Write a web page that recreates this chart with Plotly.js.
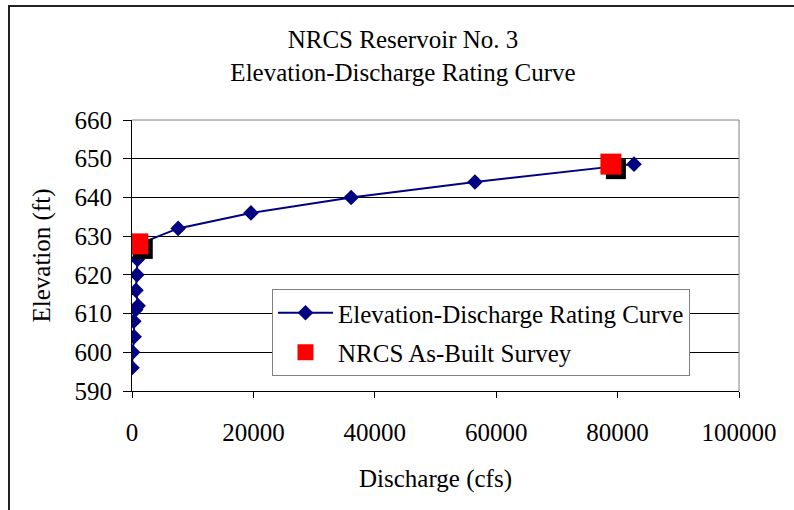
<!DOCTYPE html>
<html><head><meta charset="utf-8">
<script src="https://cdn.plot.ly/plotly-3.0.1.min.js"></script>
<style>html,body{margin:0;padding:0;background:#fff}#chart{width:794px;height:510px}</style>
</head><body><div id="chart"></div>
<script>
// Data
const curveDischarge = [0, 100, 350, 300, 600, 1000, 650, 800, 900, 1200, 7600, 19600, 36100, 56500, 82700];
const curveElevation = [596, 600, 604, 608, 611, 612, 616, 620, 624, 628, 632, 636, 640, 644, 648.6];
const surveyDischarge = [950, 78900];
const surveyElevation = [628, 648.6];
const xTickVals = [0, 20000, 40000, 60000, 80000, 100000];
const yTickVals = [590, 600, 610, 620, 630, 640, 650, 660];

const FONT = "Liberation Serif, 'Times New Roman', Times, serif";
const FS = 25;
const W = 794, H = 510;
const M = {l: 132, r: 55, t: 120, b: 119};
const xRange = [0, 100000], yRange = [590, 660];
const plotW = W - M.l - M.r, plotH = H - M.t - M.b;
// shadow offset (pixels) for the survey markers, expressed as a shifted overlay axis
const sh = 5;
const dx = sh * (xRange[1] - xRange[0]) / plotW;
const dy = sh * (yRange[1] - yRange[0]) / plotH;

const traces = [
  {
    x: curveDischarge, y: curveElevation, type: 'scatter', mode: 'lines+markers',
    name: 'Elevation-Discharge Rating Curve', legendgroup: 'a',
    line: {color: '#000080', width: 2},
    marker: {symbol: 'diamond', size: 12, color: '#000080'},
    xaxis: 'x', yaxis: 'y'
  },
  {
    x: surveyDischarge, y: surveyElevation, type: 'scatter', mode: 'markers',
    showlegend: false, hoverinfo: 'skip',
    marker: {symbol: 'square', size: 20, color: '#000000'},
    xaxis: 'x2', yaxis: 'y2'
  },
  {
    x: surveyDischarge, y: surveyElevation, type: 'scatter', mode: 'markers',
    name: 'NRCS As-Built Survey', legendgroup: 'b',
    marker: {symbol: 'square', size: 21, color: '#ff0000'},
    xaxis: 'x3', yaxis: 'y3'
  }
];

const hidden = {visible: false, fixedrange: true};
const layout = {
  width: W, height: H,
  margin: M,
  paper_bgcolor: '#ffffff', plot_bgcolor: '#ffffff',
  font: {family: FONT, size: FS, color: '#000000'},
  showlegend: true,
  title: {
    text: 'NRCS Reservoir No. 3<br>Elevation-Discharge Rating Curve',
    font: {family: FONT, size: FS, color: '#000'},
    xref: 'container', x: 403 / W, xanchor: 'center',
    yref: 'container', y: 1 - 48 / H, yanchor: 'top'
  },
  xaxis: {
    range: xRange, tickvals: xTickVals, ticktext: xTickVals.map(String),
    showgrid: false, zeroline: false, showline: true, linecolor: '#000', linewidth: 1,
    ticks: 'outside', ticklen: 6, tickcolor: '#000', tickwidth: 1,
    ticklabelstandoff: 13,
    tickfont: {family: FONT, size: FS},
    title: {text: 'Discharge (cfs)', font: {family: FONT, size: FS}, standoff: 24}
  },
  yaxis: {
    range: yRange, tickvals: yTickVals, ticktext: yTickVals.map(String),
    showgrid: true, gridcolor: '#000', gridwidth: 1, zeroline: false,
    showline: true, linecolor: '#000', linewidth: 1,
    ticks: 'outside', ticklen: 8, tickcolor: '#000', tickwidth: 1,
    ticklabelstandoff: 6,
    tickfont: {family: FONT, size: FS},
    title: {text: 'Elevation (ft)', font: {family: FONT, size: FS}, standoff: 16}
  },
  xaxis2: Object.assign({overlaying: 'x', range: [xRange[0] - dx, xRange[1] - dx]}, hidden),
  yaxis2: Object.assign({overlaying: 'y', range: [yRange[0] + dy, yRange[1] + dy]}, hidden),
  xaxis3: Object.assign({overlaying: 'x', range: xRange}, hidden),
  yaxis3: Object.assign({overlaying: 'y', range: yRange}, hidden),
  legend: {
    x: (272 - M.l) / plotW, y: (H - M.b - 289) / plotH, xanchor: 'left', yanchor: 'top',
    bgcolor: '#ffffff', bordercolor: '#808080', borderwidth: 1,
    font: {family: FONT, size: FS},
    itemwidth: 55, traceorder: 'grouped', tracegroupgap: 4
  },
  shapes: [
    {type: 'line', xref: 'paper', yref: 'paper', x0: 0, x1: 1, y0: 1, y1: 1, line: {color: '#808080', width: 1}},
    {type: 'line', xref: 'paper', yref: 'paper', x0: 1, x1: 1, y0: 0, y1: 1, line: {color: '#808080', width: 1}},
    {type: 'rect', xref: 'paper', yref: 'paper',
     x0: (9 - M.l) / plotW, x1: (W + 10 - M.l) / plotW,
     y0: (H - M.b - (H + 10)) / plotH, y1: (H - M.b - 6) / plotH,
     line: {color: '#222', width: 2}, fillcolor: 'rgba(0,0,0,0)'}
  ]
};

Plotly.newPlot('chart', traces, layout, {displayModeBar: false, staticPlot: true});
</script>
</body></html>
